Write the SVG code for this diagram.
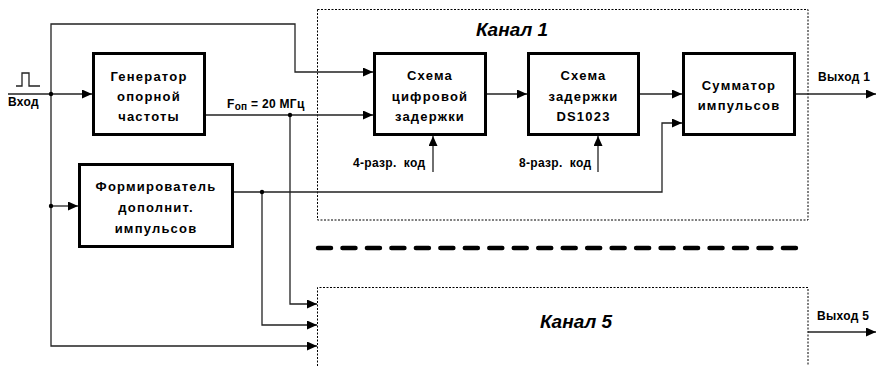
<svg xmlns="http://www.w3.org/2000/svg" width="876" height="366" viewBox="0 0 876 366">
<style>
.box{fill:#fff;stroke:#000;stroke-width:3}
.ch{fill:none;stroke:#000;stroke-width:1;stroke-dasharray:2 1.5}
.w{fill:none;stroke:#222;stroke-width:1.3}
.t{font-family:"Liberation Sans",Arial,sans-serif;font-weight:bold;font-size:13px;letter-spacing:1.2px;text-anchor:middle;fill:#000}
.s{font-family:"Liberation Sans",Arial,sans-serif;font-weight:bold;font-size:12px;letter-spacing:0.3px;fill:#000;white-space:pre}
.k{font-family:"Liberation Sans",Arial,sans-serif;font-weight:bold;font-style:italic;font-size:19px;text-anchor:middle;fill:#000}
</style>
<defs>
<marker id="a" markerUnits="userSpaceOnUse" markerWidth="10" markerHeight="9" refX="10" refY="4.5" orient="auto">
<path d="M0,0 L10,4.5 L0,9 z" fill="#000"/>
</marker>
</defs>
<g id="channel1">
<rect class="ch" x="317.5" y="9.5" width="490.5" height="210.5"/>
<text class="k" x="512" y="36">Канал 1</text>
</g>
<g id="channel5">
<path class="ch" d="M317.5,366 V287.5 H808 V366"/>
<text class="k" x="576" y="328">Канал 5</text>
</g>
<g id="separator">
<line x1="318" y1="248" x2="797" y2="248" stroke="#000" stroke-width="4.5" stroke-linecap="round" stroke-dasharray="13 11.47"/>
</g>
<g id="connectors">
<path class="w" d="M16,86 H22 V73 H29 V86 H40"/>
<path class="w" d="M8,94 H92" marker-end="url(#a)"/>
<path class="w" d="M51,94 V24 H295 V72 H373" marker-end="url(#a)"/>
<path class="w" d="M51,94 V346 H317" marker-end="url(#a)"/>
<path class="w" d="M51,206 H78" marker-end="url(#a)"/>
<path class="w" d="M206,115 H373" marker-end="url(#a)"/>
<path class="w" d="M290,115 V304 H317" marker-end="url(#a)"/>
<path class="w" d="M487,94 H527" marker-end="url(#a)"/>
<path class="w" d="M640,94 H682" marker-end="url(#a)"/>
<path class="w" d="M796,94 H876" marker-end="url(#a)"/>
<path class="w" d="M234,192 H662 V123 H682" marker-end="url(#a)"/>
<path class="w" d="M262,192 V325 H317" marker-end="url(#a)"/>
<path class="w" d="M433,172 V136" marker-end="url(#a)"/>
<path class="w" d="M598,172 V136" marker-end="url(#a)"/>
<path class="w" d="M808,332 H876" marker-end="url(#a)"/>
<circle cx="51" cy="94" r="2.2" fill="#000"/>
<circle cx="51" cy="206" r="2.2" fill="#000"/>
<circle cx="290" cy="115" r="2.2" fill="#000"/>
<circle cx="262" cy="192" r="2.2" fill="#000"/>
<text class="s" x="8" y="106">Вход</text>
<text class="s" x="227" y="108">F<tspan font-size="10" dy="2">оп</tspan><tspan dy="-2"> = 20 МГц</tspan></text>
<text class="s" x="353" y="167" xml:space="preserve">4-разр.  код</text>
<text class="s" x="519" y="167" xml:space="preserve">8-разр.  код</text>
<text class="s" x="818" y="81">Выход 1</text>
<text class="s" x="817" y="320">Выход 5</text>
</g>
<g id="generator">
<rect class="box" x="93.5" y="53.5" width="111" height="81"/>
<text class="t" x="149" y="81">Генератор</text>
<text class="t" x="149" y="101">опорной</text>
<text class="t" x="149" y="121">частоты</text>
</g>
<g id="digital-delay">
<rect class="box" x="374.5" y="53.5" width="111" height="81"/>
<text class="t" x="430" y="80">Схема</text>
<text class="t" x="430" y="101">цифровой</text>
<text class="t" x="430" y="121">задержки</text>
</g>
<g id="ds1023">
<rect class="box" x="528.5" y="53.5" width="110" height="81"/>
<text class="t" x="583.5" y="80">Схема</text>
<text class="t" x="583.5" y="101">задержки</text>
<text class="t" x="583.5" y="121">DS1023</text>
</g>
<g id="summator">
<rect class="box" x="683.5" y="53.5" width="111" height="81"/>
<text class="t" x="739" y="90">Сумматор</text>
<text class="t" x="739" y="110">импульсов</text>
</g>
<g id="former">
<rect class="box" x="79.5" y="164.5" width="153" height="82"/>
<text class="t" x="156" y="191">Формирователь</text>
<text class="t" x="156" y="212">дополнит.</text>
<text class="t" x="156" y="233">импульсов</text>
</g>
</svg>
